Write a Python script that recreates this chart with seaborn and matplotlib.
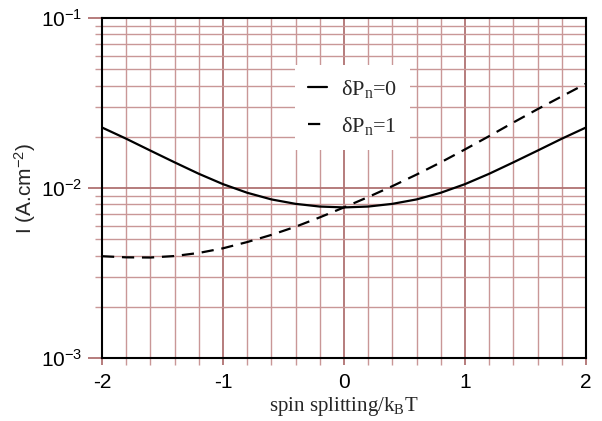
import numpy as np
import pandas as pd
import matplotlib
matplotlib.use("Agg")
import matplotlib.pyplot as plt
import matplotlib.ticker as mticker
import seaborn as sns

# spin splitting / kB T
splitting = [-2.0, -1.8, -1.6, -1.4, -1.2, -1.0, -0.8, -0.6, -0.4, -0.2, 0.0,
             0.2, 0.4, 0.6, 0.8, 1.0, 1.2, 1.4, 1.6, 1.8, 2.0]

# current I (A.cm^-2)
current_dp0 = [0.0227, 0.0195, 0.0166, 0.01416, 0.01213, 0.01054, 0.00938, 0.00857,
               0.00807, 0.00778, 0.00769, 0.00778, 0.00807, 0.00857, 0.00938, 0.01054,
               0.01213, 0.01416, 0.0166, 0.0195, 0.0227]
current_dp1 = [0.00397, 0.00391, 0.00390, 0.00398, 0.00415, 0.00442, 0.00481, 0.00530,
               0.00592, 0.00672, 0.00769, 0.00885, 0.01026, 0.0120, 0.01416, 0.01687,
               0.0202, 0.0243, 0.0291, 0.0346, 0.0411]

labels = ["δP$_\\mathrm{n}$=0", "δP$_\\mathrm{n}$=1"]

sns.set_theme(style="ticks")
plt.rcParams["font.family"] = ["Liberation Sans", "DejaVu Sans"]
plt.rcParams["mathtext.fontset"] = "custom"
plt.rcParams["mathtext.rm"] = "Liberation Serif"
plt.rcParams["mathtext.sf"] = "Liberation Sans"
plt.rcParams["mathtext.it"] = "Liberation Serif:italic"

grid_major = "#b07272"
grid_minor = "#c99797"

df = pd.DataFrame({"x": splitting, "dp0": current_dp0, "dp1": current_dp1})

fig, ax = plt.subplots(figsize=(6.02, 4.21), dpi=100)
fig.subplots_adjust(left=0.1694, right=0.9734, top=0.9572, bottom=0.1496)

sns.lineplot(data=df, x="x", y="dp0", color="black", lw=1.6, label=labels[0], ax=ax)
sns.lineplot(data=df, x="x", y="dp1", color="black", lw=1.6, label=labels[1],
             linestyle=(0, (5.5, 3.5)), ax=ax)

ax.set_yscale("log")
ax.set_xlim(-2, 2)
ax.set_ylim(1e-3, 1e-1)

ax.xaxis.set_major_locator(mticker.MultipleLocator(1))
ax.xaxis.set_minor_locator(mticker.MultipleLocator(0.2))
ax.yaxis.set_major_locator(mticker.LogLocator(base=10, numticks=10))
ax.yaxis.set_minor_locator(mticker.LogLocator(base=10, subs=np.arange(2, 10), numticks=20))
ax.yaxis.set_minor_formatter(mticker.NullFormatter())
ax.yaxis.set_major_formatter(
    mticker.FuncFormatter(lambda v, p: "10$^{\\mathsf{%d}}$" % round(np.log10(v))))
ax.xaxis.set_major_formatter(mticker.FuncFormatter(lambda v, p: "%d" % round(v)))

ax.set_axisbelow(True)
ax.grid(which="major", color=grid_major, lw=1.3)
ax.grid(which="minor", color=grid_minor, lw=1.0)

ax.tick_params(axis="both", which="both", direction="out", colors=grid_major,
               labelcolor="black", labelsize=15)
ax.tick_params(axis="x", which="major", length=5, width=1.3, pad=6)
ax.tick_params(axis="x", which="minor", length=5, width=1.0, color=grid_minor)
ax.tick_params(axis="y", which="major", length=10, width=1.3, pad=4)
ax.tick_params(axis="y", which="minor", length=5, width=1.0, color=grid_minor)

for s in ax.spines.values():
    s.set_color("black")
    s.set_linewidth(1.5)
    s.set_zorder(5)

ax.set_xlabel("spin splitting/k$_\\mathrm{B}$T", family="Liberation Serif", fontsize=15,
              labelpad=2)
ax.set_ylabel("I (A.cm$^{\\mathsf{-2}}$)", fontsize=15)
ax.yaxis.set_label_coords(-0.132, 0.5)

leg = ax.legend(loc="upper left", bbox_to_anchor=(0.399, 0.862), borderaxespad=0,
                frameon=True, fancybox=False, framealpha=1, edgecolor="white",
                facecolor="white", handlelength=0.85, handletextpad=0.6,
                labelspacing=0.65, borderpad=0.6,
                prop={"family": "Liberation Serif", "size": 16})
leg.get_frame().set_linewidth(0)

fig.savefig("out.png", dpi=100)
